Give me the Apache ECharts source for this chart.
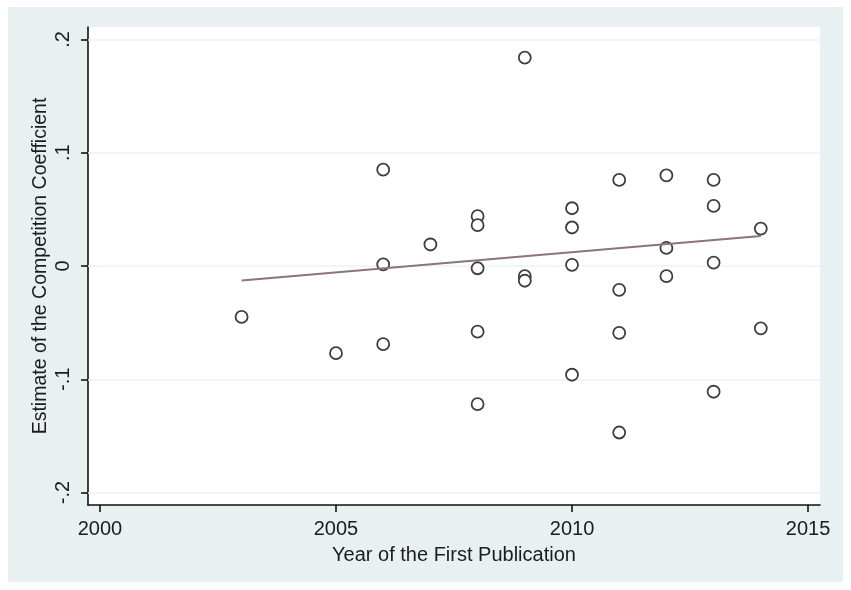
<!DOCTYPE html>
<html>
<head>
<meta charset="utf-8">
<script src="https://cdn.jsdelivr.net/npm/echarts@6/dist/echarts.min.js"></script>
<style>
html,body{margin:0;padding:0;background:#ffffff;}
#chart{width:851px;height:590px;}
</style>
</head>
<body>
<div id="chart"></div>
<script>
// Data
const years = [2003, 2005, 2006, 2006, 2006, 2007, 2008, 2008, 2008, 2008, 2008,
  2009, 2009, 2009, 2010, 2010, 2010, 2010, 2011, 2011, 2011, 2011,
  2012, 2012, 2012, 2013, 2013, 2013, 2013, 2014, 2014];
const estimates = [-0.045, -0.077, 0.085, 0.0015, -0.069, 0.019, 0.044, 0.036, -0.002, -0.058, -0.122,
  0.184, -0.009, -0.013, 0.051, 0.034, 0.001, -0.096, 0.076, -0.021, -0.059, -0.147,
  0.080, 0.016, -0.009, 0.076, 0.053, 0.003, -0.111, 0.033, -0.055];
const fitYears = [2003, 2014];
const fitValues = [-0.0129, 0.0265];
const xTicks = [2000, 2005, 2010, 2015];
const yTicks = [-0.2, -0.1, 0, 0.1, 0.2];
const yTickLabels = ['-.2', '-.1', '0', '.1', '.2'];

const points = years.map((y, i) => [y, estimates[i]]);
const fitLine = fitYears.map((y, i) => [y, fitValues[i]]);

const FONT = 'Liberation Sans, Arial, sans-serif';
const TXT = '#1c1c1c';
const chart = echarts.init(document.getElementById('chart'), null, {renderer: 'canvas'});
chart.setOption({
  backgroundColor: '#ffffff',
  animation: false,
  graphic: [{
    type: 'rect', z: -100, silent: true,
    shape: {x: 8, y: 7, width: 835, height: 575},
    style: {fill: '#e8f0f2'}
  }],
  grid: {
    left: 88, right: 31, top: 27, bottom: 85,
    show: true, backgroundColor: '#ffffff', borderWidth: 0
  },
  xAxis: {
    type: 'value', min: 1999.746, max: 2015.254,
    name: 'Year of the First Publication',
    nameLocation: 'middle', nameGap: 40,
    nameTextStyle: {fontFamily: FONT, fontSize: 20, color: TXT},
    axisLine: {show: true, onZero: false, lineStyle: {color: '#111', width: 1.6}},
    axisTick: {show: true, length: 7, customValues: xTicks, lineStyle: {color: '#111', width: 1.6}},
    axisLabel: {customValues: xTicks, margin: 14, fontFamily: FONT, fontSize: 20, color: TXT,
      formatter: v => String(Math.round(v))},
    splitLine: {show: false}
  },
  yAxis: {
    type: 'value', min: -0.211, max: 0.211,
    name: 'Estimate of the Competition Coefficient',
    nameLocation: 'middle', nameGap: 37, nameMoveOverlap: false,
    nameTextStyle: {fontFamily: FONT, fontSize: 19.5, color: TXT},
    axisLine: {show: true, onZero: false, lineStyle: {color: '#111', width: 1.6}},
    axisTick: {show: true, length: 7, customValues: yTicks, lineStyle: {color: '#111', width: 1.6}},
    axisLabel: {customValues: yTicks, rotate: 90, margin: 15, fontFamily: FONT, fontSize: 20, color: TXT,
      formatter: v => { const i = yTicks.findIndex(t => Math.abs(t - v) < 1e-6); return i >= 0 ? yTickLabels[i] : ''; }},
    splitLine: {show: false}
  },
  series: [
    {
      type: 'scatter', data: points, symbol: 'circle', symbolSize: 12,
      itemStyle: {color: '#ffffff', borderColor: '#3e3e3e', borderWidth: 1.8, opacity: 1},
      z: 3,
      markLine: {
        silent: true, symbol: 'none', label: {show: false},
        lineStyle: {color: '#edf2f3', width: 1.5, type: 'solid'},
        data: yTicks.map(t => ({yAxis: t})),
        z: 1
      }
    },
    {
      type: 'line', data: fitLine, showSymbol: false, symbol: 'none',
      lineStyle: {color: '#8a7679', width: 2},
      z: 4
    }
  ]
});
</script>
</body>
</html>
